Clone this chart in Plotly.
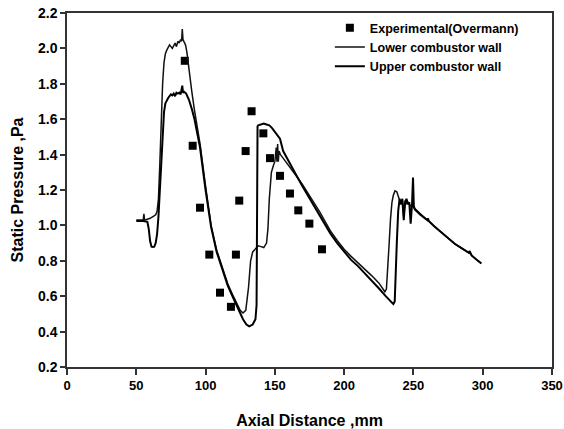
import plotly.graph_objects as go

# Experimental data (Overmann)
exp_x = [85, 90.7, 96, 102.7, 110.4, 118.3, 121.9, 124.3, 128.9, 133.2, 141.7, 146.5, 153.7, 160.9, 166.9, 174.9, 184]
exp_y = [1.93, 1.45, 1.10, 0.835, 0.62, 0.54, 0.835, 1.14, 1.42, 1.645, 1.52, 1.38, 1.28, 1.18, 1.085, 1.01, 0.865]

# Lower combustor wall
low_x = [50, 53, 55, 55.5, 56, 58, 60, 62, 64, 65, 66, 67, 68, 69, 70, 71, 72, 74, 76, 77, 78, 79, 80, 81, 82,
         82.7, 83.2, 83.7, 84.5, 85.5, 86.5, 88, 90, 92, 94, 96, 100, 104, 108, 112, 116, 120, 123, 125, 127,
         129, 131, 132.5, 134, 136, 138, 140, 142, 144, 145, 146, 147.5, 149, 150, 151, 151.5, 152, 152.5, 153,
         153.5, 154, 155, 157, 160, 165, 170, 175, 180, 182.5, 185, 190, 195, 200, 205, 210, 215, 220, 225, 229.4,
         230.5, 231.5, 232.5, 233.5, 234.5, 235.5, 236.7, 238, 239, 240, 241, 242, 243, 244, 245, 246, 248, 249,
         250, 251, 255, 258, 260, 260.5, 261, 265, 270, 275, 280, 285, 288, 290, 290.5, 292, 295, 297, 299]
low_y = [1.03, 1.03, 1.03, 1.065, 1.03, 1.035, 1.04, 1.05, 1.06, 1.08, 1.15, 1.35, 1.6, 1.8, 1.92, 1.97, 1.99,
         2.02, 2.0, 2.02, 2.03, 2.01, 2.04, 2.03, 2.05, 2.04, 2.11, 2.05, 2.04, 2.02, 1.98, 1.88, 1.76, 1.65,
         1.55, 1.46, 1.22, 1.0, 0.86, 0.76, 0.67, 0.6, 0.55, 0.52, 0.505, 0.52, 0.65, 0.8, 0.85, 0.87, 0.885,
         0.88, 0.875, 0.9, 0.98, 1.15, 1.3, 1.34, 1.36, 1.44, 1.36, 1.46, 1.36, 1.42, 1.40, 1.40, 1.39, 1.37,
         1.34, 1.285, 1.23, 1.17, 1.105, 1.075, 1.04, 0.97, 0.915, 0.865, 0.825, 0.79, 0.755, 0.715, 0.675,
         0.625, 0.64, 0.75, 0.9, 1.04, 1.13, 1.17, 1.195, 1.19, 1.17, 1.15, 1.12, 1.14, 1.05, 1.14, 1.12, 1.13,
         1.11, 1.11, 1.10, 1.095, 1.065, 1.045, 1.03, 1.04, 1.025, 0.995, 0.96, 0.93, 0.895, 0.87, 0.855, 0.845,
         0.855, 0.83, 0.81, 0.80, 0.785]

# Upper combustor wall
up_x = [50, 55, 58, 59, 60, 61, 62, 63, 64, 65, 66, 67, 68, 69, 70, 71, 72, 73, 74, 75, 76, 77, 78, 79, 80, 81,
        82, 82.7, 83.2, 83.7, 84.5, 86, 88, 90, 92, 94, 96, 100, 104, 108, 112, 116, 120, 124, 127, 129.5, 131.5,
        134, 136, 136.8, 137, 137.2, 137.5, 138, 140, 142, 144, 146, 148, 150, 152, 153.7, 156, 160, 165, 170,
        175, 180, 182.5, 185, 190, 195, 200, 205, 210, 215, 220, 225, 230, 233, 235.5, 236.5, 237, 238, 239, 240,
        241, 242, 243, 244, 245, 246, 247, 248, 249, 249.7, 250.3, 251, 255, 258, 260, 260.5, 261, 265, 270, 275,
        280, 285, 288, 290, 290.5, 292, 295, 297, 299]
up_y = [1.025, 1.025, 1.02, 0.98, 0.91, 0.88, 0.878, 0.88, 0.9, 0.95, 1.05, 1.2, 1.4, 1.55, 1.64, 1.69, 1.71,
        1.72, 1.73, 1.74, 1.735, 1.745, 1.73, 1.75, 1.745, 1.75, 1.74, 1.76, 1.79, 1.75, 1.755, 1.745, 1.71,
        1.66, 1.60, 1.52, 1.44, 1.20, 0.99, 0.85, 0.75, 0.66, 0.59, 0.52, 0.47, 0.44, 0.43, 0.44, 0.47, 0.55,
        1.0, 1.5, 1.56, 1.565, 1.57, 1.575, 1.57, 1.565, 1.55, 1.53, 1.51, 1.49, 1.42, 1.36, 1.29, 1.22, 1.155,
        1.09, 1.06, 1.025, 0.955, 0.9, 0.85, 0.805, 0.77, 0.73, 0.69, 0.645, 0.6, 0.575, 0.555, 0.57, 0.7, 0.9,
        1.08, 1.15, 1.12, 1.15, 1.03, 1.13, 1.15, 1.12, 1.13, 1.01, 1.12, 1.27, 1.11, 1.09, 1.06, 1.04, 1.03,
        1.04, 1.025, 0.995, 0.96, 0.93, 0.895, 0.87, 0.855, 0.845, 0.855, 0.83, 0.81, 0.80, 0.785]

FONT = "Liberation Sans, Arial, sans-serif"

fig = go.Figure()
fig.add_trace(go.Scatter(x=exp_x, y=exp_y, mode="markers", name="Experimental(Overmann)",
                         marker=dict(symbol="square", size=8, color="black")))
fig.add_trace(go.Scatter(x=low_x, y=low_y, mode="lines", name="Lower combustor wall",
                         line=dict(color="#111111", width=1.5)))
fig.add_trace(go.Scatter(x=up_x, y=up_y, mode="lines", name="Upper combustor wall",
                         line=dict(color="black", width=2)))

axis_common = dict(showline=True, linecolor="#333333", linewidth=1.5, mirror=True, showgrid=False,
                   zeroline=False, ticks="outside", tickcolor="#333333", tickwidth=1.5, automargin=False)

fig.update_layout(
    width=564, height=429,
    margin=dict(l=67, r=12, t=13, b=62),
    paper_bgcolor="white", plot_bgcolor="white",
    showlegend=True,
    legend=dict(x=0.542, y=1.0, xanchor="left", yanchor="top", bgcolor="rgba(0,0,0,0)",
                font=dict(family=FONT, size=12.5, color="black", weight="bold"),
                tracegroupgap=0, itemwidth=30),
    xaxis=dict(range=[0, 350], dtick=50, tick0=0, ticklen=6,
               tickfont=dict(family=FONT, size=13, color="black", weight="bold"),
               title=dict(text="Axial Distance ,mm", standoff=22,
                          font=dict(family=FONT, size=16, color="black", weight="bold")),
               **axis_common),
    yaxis=dict(range=[0.2, 2.2], dtick=0.2, tick0=0.2, ticklen=5, tickformat=".1f",
               tickfont=dict(family=FONT, size=14, color="black", weight="bold"),
               title=dict(text="Static Pressure ,Pa", standoff=10,
                          font=dict(family=FONT, size=16, color="black", weight="bold")),
               **axis_common),
)

fig.write_html("out.html")
